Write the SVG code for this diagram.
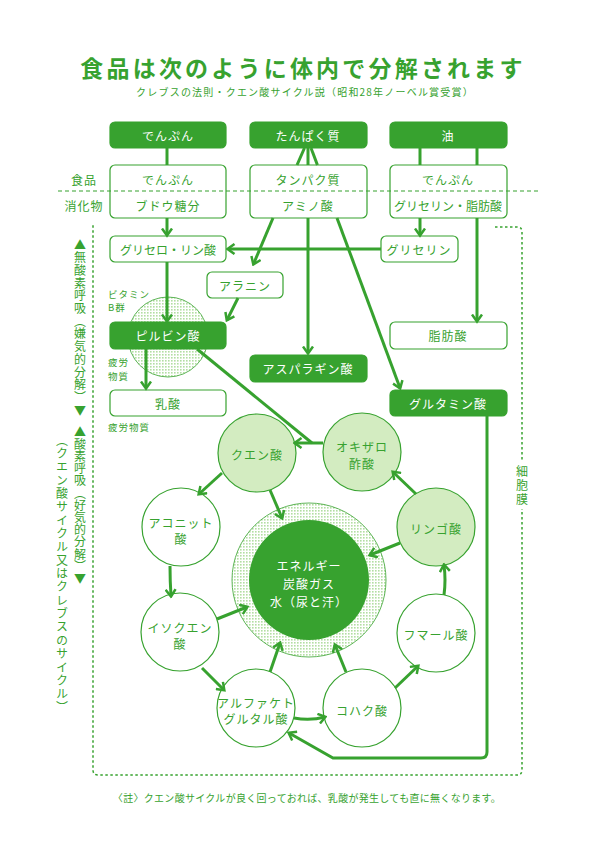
<svg xmlns="http://www.w3.org/2000/svg" width="595" height="842" viewBox="0 0 595 842">
<style>
.t{font-family:"Noto Sans CJK JP","Noto Sans",sans-serif;fill:#37a22f;font-size:12px;text-anchor:middle;dominant-baseline:central;letter-spacing:1px}
.w{fill:#fff}
.box{fill:#fff;stroke:#37a22f;stroke-width:1.2}
.fbox{fill:#37a22f;stroke:#37a22f;stroke-width:1.2}
.lc{fill:#d3ecc1;stroke:#37a22f;stroke-width:1.2}
.wc{fill:#fff;stroke:#37a22f;stroke-width:1.2}
.ln{fill:none;stroke:#37a22f;stroke-width:3}
.ar{fill:none;stroke:#37a22f;stroke-width:3;marker-end:url(#ah)}
.vt{writing-mode:vertical-rl;text-anchor:start;dominant-baseline:central}
</style>
<defs>
<marker id="ah" viewBox="0 0 10 12" refX="7.5" refY="6" markerWidth="10" markerHeight="12" markerUnits="userSpaceOnUse" orient="auto">
<path d="M1,1 L8,6 L1,11" fill="none" stroke="#37a22f" stroke-width="2.5"/>
</marker>
<pattern id="dots" width="3" height="3" patternUnits="userSpaceOnUse">
<rect width="3" height="3" fill="#fff"/>
<rect width="1.6" height="1.6" fill="#b3dea3"/>
</pattern>
</defs>

<!-- title -->
<text class="t" x="303" y="67" style="font-size:23px;font-weight:bold;letter-spacing:3.2px">食品は次のように体内で分解されます</text>
<text class="t" x="305" y="91" style="font-size:10px;letter-spacing:1.2px">クレブスの法則・クエン酸サイクル説（昭和28年ノーベル賞受賞）</text>

<!-- frame -->
<g id="frame">
<path d="M495 227 H517 Q522 227 522 232 V770 Q522 775 517 775 H98 Q93 775 93 770 V223" fill="none" stroke="#37a22f" stroke-width="1.5" stroke-dasharray="2.5 2.5"/>
<rect x="514" y="461" width="16" height="48" fill="#fff"/>
<text class="t vt" x="522" y="465" style="letter-spacing:2px">細胞膜</text>
</g>

<!-- side labels -->
<g id="labels">
<text class="t" x="84" y="179">食品</text>
<text class="t" x="84" y="205">消化物</text>
<text class="t vt" x="80" y="239" style="letter-spacing:0.7px">▲無酸素呼吸（嫌気的分解）▼</text>
<text class="t vt" x="80" y="426" style="letter-spacing:0.2px">▲酸素呼吸（好気的分解）▼</text>
<text class="t vt" x="62" y="434" style="letter-spacing:1.35px">（クエン酸サイクル又はクレブスのサイクル）</text>
<text class="t" x="108" y="294" style="font-size:9.5px;text-anchor:start">ビタミン</text>
<text class="t" x="108" y="307" style="font-size:9.5px;text-anchor:start">B群</text>
<text class="t" x="108" y="362" style="font-size:9.5px;text-anchor:start">疲労</text>
<text class="t" x="108" y="376" style="font-size:9.5px;text-anchor:start">物質</text>
<text class="t" x="108" y="427" style="font-size:9.5px;text-anchor:start">疲労物質</text>
</g>

<!-- top boxes -->
<g id="n-denpun-top"><rect class="fbox" x="110" y="122" width="116" height="26" rx="5"/><text class="t w" x="168" y="135">でんぷん</text></g>
<g id="n-tanpaku-top"><rect class="fbox" x="250" y="122" width="117" height="26" rx="5"/><text class="t w" x="308" y="135">たんぱく質</text></g>
<g id="n-abura-top"><rect class="fbox" x="390" y="122" width="117" height="26" rx="5"/><text class="t w" x="448" y="135">油</text></g>

<!-- second row -->
<g id="n-denpun"><rect class="box" x="110" y="165" width="116" height="53" rx="5"/><text class="t" x="168" y="179">でんぷん</text><text class="t" x="168" y="205">ブドウ糖分</text></g>
<g id="n-tanpaku"><rect class="box" x="250" y="165" width="117" height="53" rx="5"/><text class="t" x="308" y="179">タンパク質</text><text class="t" x="308" y="205">アミノ酸</text></g>
<g id="n-abura"><rect class="box" x="390" y="165" width="117" height="53" rx="5"/><text class="t" x="448" y="179">でんぷん</text><text class="t" x="448" y="205" style="letter-spacing:0">グリセリン・脂肪酸</text></g>

<!-- middle -->
<g id="n-glyceroP"><rect class="box" x="110" y="236" width="116" height="26" rx="5"/><text class="t" x="168" y="249" style="letter-spacing:0">グリセロ・リン酸</text></g>
<g id="n-glycerin"><rect class="box" x="381" y="236" width="77" height="26" rx="5"/><text class="t" x="419" y="249">グリセリン</text></g>
<g id="n-alanine"><rect class="box" x="207" y="272" width="76" height="26" rx="5"/><text class="t" x="245" y="285">アラニン</text></g>
<g id="n-fatty"><rect class="box" x="390" y="322" width="117" height="27" rx="5"/><text class="t" x="448" y="335">脂肪酸</text></g>
<g id="n-pyruvic">
<circle cx="168" cy="337" r="40" fill="url(#dots)" stroke="#37a22f" stroke-width="0.8"/>
<rect class="fbox" x="110" y="322" width="116" height="27" rx="5"/><text class="t w" x="168" y="335">ピルビン酸</text></g>
<g id="n-asparagine"><rect class="fbox" x="250" y="355" width="117" height="27" rx="5"/><text class="t w" x="308" y="368">アスパラギン酸</text></g>
<g id="n-glutamine"><rect class="fbox" x="390" y="390" width="117" height="26" rx="5"/><text class="t w" x="448" y="403">グルタミン酸</text></g>
<g id="n-lactic"><rect class="box" x="110" y="390" width="116" height="26" rx="5"/><text class="t" x="168" y="403">乳酸</text></g>

<!-- cycle -->
<g id="n-center">
<circle cx="309" cy="580" r="77" fill="url(#dots)" stroke="#37a22f" stroke-width="0.8"/>
<circle cx="309" cy="580" r="60" fill="#37a22f"/>
<text class="t w" x="309" y="565">エネルギー</text>
<text class="t w" x="309" y="583">炭酸ガス</text>
<text class="t w" x="309" y="601">水（尿と汗）</text>
</g>
<g id="n-citric"><circle class="lc" cx="257" cy="453" r="39"/><text class="t" x="257" y="454">クエン酸</text></g>
<g id="n-oxalo"><circle class="lc" cx="362" cy="452" r="39"/><text class="t" x="362" y="446">オキザロ</text><text class="t" x="362" y="463">酢酸</text></g>
<g id="n-malic"><circle class="lc" cx="436" cy="527" r="39"/><text class="t" x="436" y="528">リンゴ酸</text></g>
<g id="n-aconit"><circle class="wc" cx="181" cy="527" r="39"/><text class="t" x="181" y="522">アコニット</text><text class="t" x="181" y="538">酸</text></g>
<g id="n-isocitric"><circle class="wc" cx="180" cy="632" r="39"/><text class="t" x="180" y="627">イソクエン</text><text class="t" x="180" y="643">酸</text></g>
<g id="n-akg"><circle class="wc" cx="256" cy="708" r="39"/><text class="t" x="256" y="702">アルファケト</text><text class="t" x="256" y="718">グルタル酸</text></g>
<g id="n-succinic"><circle class="wc" cx="362" cy="708" r="39"/><text class="t" x="362" y="710">コハク酸</text></g>
<g id="n-fumaric"><circle class="wc" cx="436" cy="633" r="39"/><text class="t" x="436" y="634">フマール酸</text></g>

<!-- connectors -->
<g id="connectors">
<line class="ln" x1="167" y1="148" x2="167" y2="165"/>
<line class="ar" x1="167" y1="218" x2="167" y2="235"/>
<line class="ar" x1="167" y1="262" x2="167" y2="321"/>
<line class="ar" x1="381" y1="249" x2="228" y2="249"/>
<line class="ln" x1="420" y1="148" x2="420" y2="165"/>
<line class="ln" x1="477" y1="148" x2="477" y2="165"/>
<line class="ar" x1="420" y1="218" x2="420" y2="235"/>
<line class="ar" x1="477" y1="218" x2="477" y2="321"/>
<line class="ln" x1="304.5" y1="148" x2="297" y2="165"/>
<line class="ln" x1="308" y1="148" x2="308" y2="165"/>
<line class="ln" x1="311" y1="148" x2="317.4" y2="165"/>
<line class="ar" x1="273" y1="218" x2="253.5" y2="264"/>
<line class="ar" x1="308" y1="218" x2="308" y2="353"/>
<line class="ar" x1="337" y1="218" x2="400" y2="388"/>
<line class="ar" x1="238" y1="298" x2="227" y2="320"/>
<line class="ar" x1="146" y1="349" x2="146" y2="388"/>
<line class="ln" x1="197" y1="349" x2="312" y2="443"/>
<line class="ar" x1="323" y1="443" x2="295" y2="443"/>
<path class="ar" d="M487 416 V752 Q487 758 481 758 H333 L289 733"/>
<line class="ar" x1="222" y1="473" x2="199" y2="494"/>
<line class="ar" x1="270" y1="490" x2="282" y2="518"/>
<path class="ar" d="M170 566 Q170 581 171 596"/>
<line class="ar" x1="217" y1="619" x2="247" y2="607"/>
<line class="ar" x1="202" y1="668" x2="224" y2="690"/>
<line class="ar" x1="270" y1="672" x2="280" y2="643"/>
<path class="ar" d="M294 718 Q310 721 325 717"/>
<line class="ar" x1="346" y1="672" x2="335" y2="645"/>
<line class="ar" x1="395" y1="688" x2="418" y2="666"/>
<path class="ar" d="M444 595 Q446 580 444 565"/>
<line class="ar" x1="400" y1="543" x2="370" y2="555"/>
<line class="ar" x1="416" y1="494" x2="393" y2="472"/>
</g>

<line x1="58" y1="191" x2="541" y2="191" stroke="#37a22f" stroke-width="1.2" stroke-dasharray="4 3"/>

<text class="t" x="307" y="797" style="font-size:10px;letter-spacing:0.3px">〈註〉クエン酸サイクルが良く回っておれば、乳酸が発生しても直に無くなります。</text>
</svg>
